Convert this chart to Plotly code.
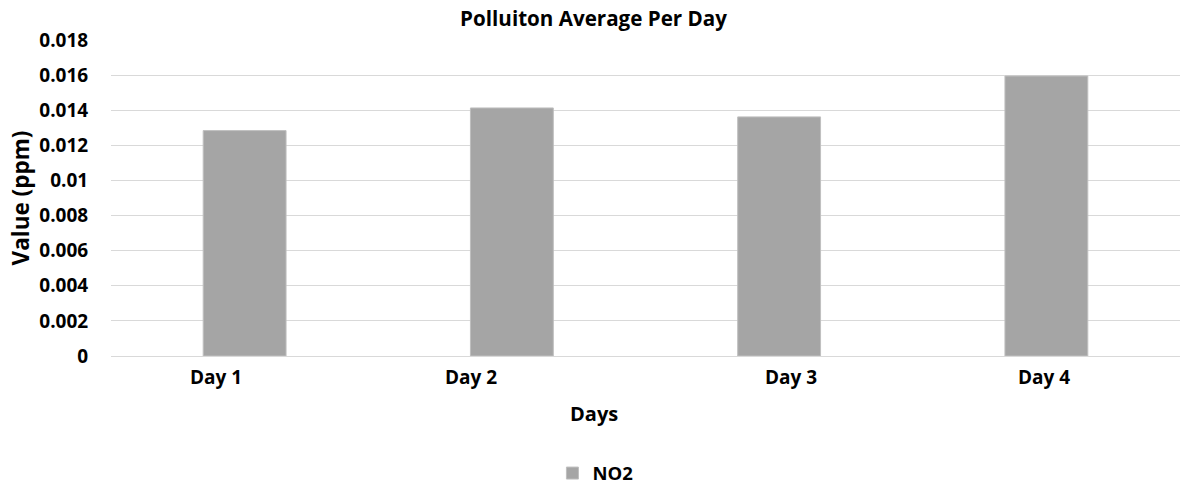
import plotly.graph_objects as go

# Average NO2 concentration per day (ppm)
days = ["Day 1", "Day 2", "Day 3", "Day 4"]
no2_values = [0.01284, 0.01413, 0.01362, 0.01595]
y_ticks = [0, 0.002, 0.004, 0.006, 0.008, 0.01, 0.012, 0.014, 0.016, 0.018]
y_tick_labels = ["0", "0.002", "0.004", "0.006", "0.008", "0.01", "0.012", "0.014", "0.016", "0.018"]

FONT = "Open Sans"
TEXT = "#000000"
GRID = "#d9d9d9"
BAR = "#a5a5a5"

# horizontal nudge applied to each category label
label_shift = [-29, -41, 12, -2]

fig = go.Figure()
fig.add_trace(go.Bar(
    x=days, y=no2_values, name="<b>NO2</b>", width=0.31,
    marker=dict(color=BAR, line=dict(color="#bfbfbf", width=1)),
))

fig.update_layout(
    width=1180, height=488,
    margin=dict(l=111, r=0, t=40, b=132, autoexpand=False),
    paper_bgcolor="white", plot_bgcolor="white",
    font=dict(family=FONT, color=TEXT, size=19),
    title=dict(text="<b>Polluiton Average Per Day</b>", x=0.503, xref="container",
               xanchor="center", y=0.961, yref="container", yanchor="middle",
               font=dict(size=20.6, family=FONT, color=TEXT)),
    showlegend=True,
    legend=dict(orientation="h", x=0.5046, xanchor="center", xref="container",
                y=-0.372, yanchor="middle", yref="paper",
                font=dict(size=18.5, family=FONT, color=TEXT)),
)

fig.update_xaxes(
    type="category", range=[-0.5, 3.5], showticklabels=False,
    showgrid=False, showline=True, linecolor=GRID, linewidth=1, ticks="",
)
fig.update_yaxes(
    range=[0, 0.018], tickvals=y_ticks,
    ticktext=[f"<b>{t}</b>" for t in y_tick_labels],
    tickfont=dict(size=19, family=FONT, color=TEXT),
    showgrid=True, gridcolor=GRID, gridwidth=1, zeroline=False, showline=False,
    ticks="outside", ticklen=18, tickcolor="rgba(0,0,0,0)",
    title=dict(text="<b>Value (ppm)</b>", standoff=3,
               font=dict(size=22.5, family=FONT, color=TEXT)),
)

annotations = []
for d, s in zip(days, label_shift):
    annotations.append(dict(
        x=d, y=0, xref="x", yref="y", yanchor="middle", yshift=-21, xshift=s,
        text=f"<b>{d}</b>", showarrow=False, font=dict(size=19, family=FONT, color=TEXT),
    ))
annotations.append(dict(
    x=0.452, y=-0.1804, xref="paper", yref="paper", xanchor="center", yanchor="middle",
    text="<b>Days</b>", showarrow=False, font=dict(size=20, family=FONT, color=TEXT),
))
fig.update_layout(annotations=annotations)

fig.write_html("out.html")
